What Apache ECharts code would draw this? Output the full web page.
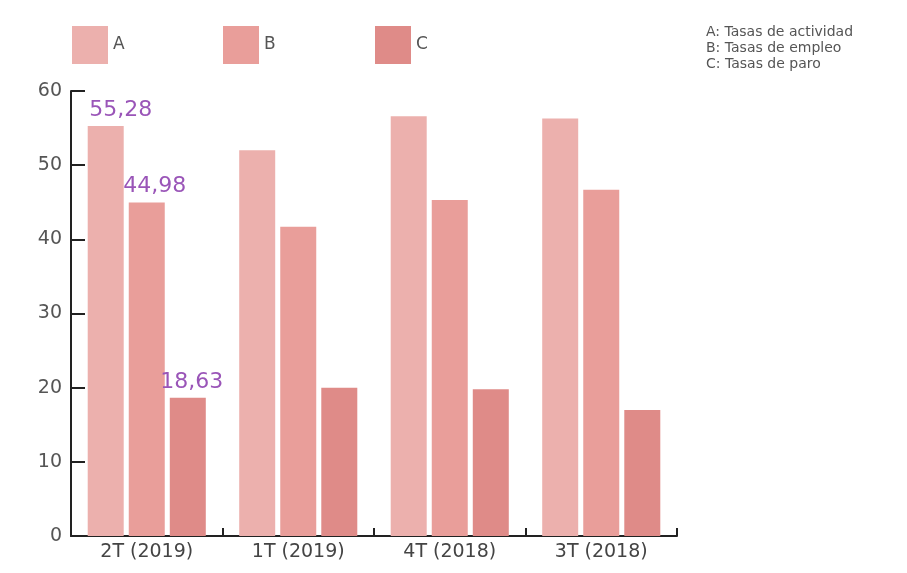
<!DOCTYPE html>
<html>
<head>
<meta charset="utf-8">
<script src="https://cdn.jsdelivr.net/npm/echarts@6/dist/echarts.min.js"></script>
<style>
html, body { margin: 0; padding: 0; background: #fff; }
#chartBars { width: 907px; height: 573px; }
</style>
</head>
<body>
<div id="chartBars"></div>
<script>
// datos
var categorias = ['2T (2019)', '1T (2019)', '4T (2018)', '3T (2018)'];
var tasaActividad = [55.28, 52.0, 56.6, 56.3];
var tasaEmpleo = [44.98, 41.7, 45.3, 46.7];
var tasaParo = [18.63, 20.0, 19.8, 17.0];
var nombresSeries = ['A', 'B', 'C'];
var notas = ['A: Tasas de actividad', 'B: Tasas de empleo', 'C: Tasas de paro'];

var colores = ['#ecb0ad', '#e99e9a', '#df8b88'];
var fuente = '"DejaVu Sans", sans-serif';

// solo el primer grupo lleva etiqueta
function conEtiqueta(valores, offsetX) {
    return valores.map(function (v, i) {
        return {
            value: v,
            label: {
                show: i === 0,
                position: 'top',
                distance: 5,
                offset: [offsetX, 0],
                color: '#9a55b8',
                fontSize: 22,
                fontFamily: fuente,
                formatter: function (p) {
                    return String(p.value).replace('.', ',');
                }
            }
        };
    });
}

function serie(nombre, valores, color, offsetX) {
    return {
        name: nombre,
        type: 'bar',
        barWidth: 36,
        barGap: '14%',
        itemStyle: { color: color },
        data: conEtiqueta(valores, offsetX)
    };
}

function leyenda(nombre, left) {
    return {
        data: [nombre],
        left: left,
        top: 26,
        padding: 0,
        itemWidth: 36,
        itemHeight: 38,
        icon: 'rect',
        selectedMode: false,
        textStyle: { color: '#555', fontSize: 17, fontFamily: fuente }
    };
}

var myChart = echarts.init(document.getElementById('chartBars'));
var option = {
    backgroundColor: '#fff',
    animation: false,
    color: colores,
    legend: [
        leyenda(nombresSeries[0], 72),
        leyenda(nombresSeries[1], 223),
        leyenda(nombresSeries[2], 375)
    ],
    graphic: [{
        type: 'text',
        left: 706,
        top: 24,
        style: {
            text: notas.join('\n'),
            fill: '#555',
            fontSize: 14,
            lineHeight: 16,
            fontFamily: fuente
        }
    }],
    grid: {
        left: 71,
        right: 230,
        top: 91,
        bottom: 37
    },
    xAxis: {
        type: 'category',
        data: categorias,
        axisLine: { lineStyle: { color: '#222', width: 2 } },
        axisTick: { show: true, inside: true, length: 8, lineStyle: { color: '#222', width: 2 } },
        axisLabel: { color: '#444', fontSize: 19, margin: 7, fontFamily: fuente }
    },
    yAxis: {
        type: 'value',
        min: 0,
        max: 60,
        interval: 10,
        splitLine: { show: false },
        axisLine: { show: true, lineStyle: { color: '#222', width: 2 } },
        axisTick: { show: true, inside: true, length: 14, lineStyle: { color: '#222', width: 2 } },
        axisLabel: { color: '#555', fontSize: 19, margin: 9, fontFamily: fuente }
    },
    series: [
        serie(nombresSeries[0], tasaActividad, colores[0], 15),
        serie(nombresSeries[1], tasaEmpleo, colores[1], 8),
        serie(nombresSeries[2], tasaParo, colores[2], 4)
    ]
};
myChart.setOption(option);
</script>
</body>
</html>
